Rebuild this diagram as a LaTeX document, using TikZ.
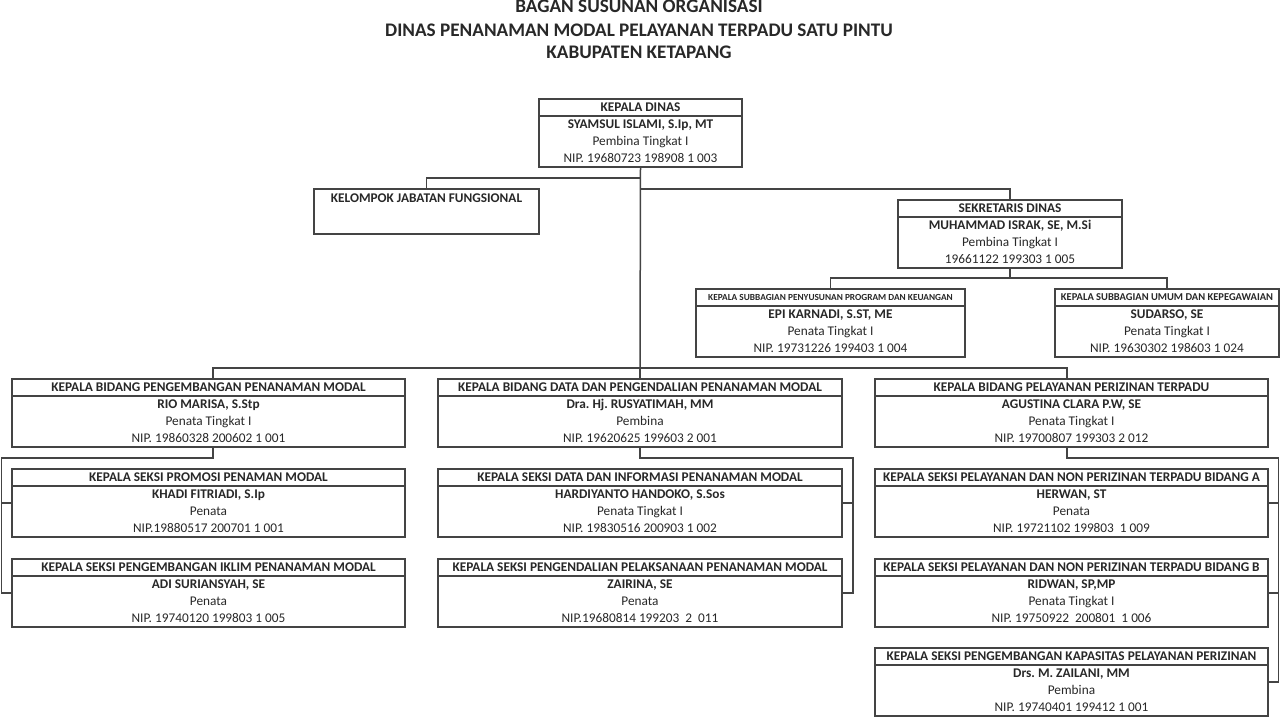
\documentclass[tikz,border=0pt]{standalone}
\usepackage{fontspec}
\setmainfont{Carlito}
\frenchspacing
\definecolor{linec}{RGB}{68,68,68}
\definecolor{textc}{RGB}{40,40,40}
\newcommand\hdb{\fontsize{13.3}{16}\selectfont\bfseries}
\newcommand\bdy{\fontsize{13.3}{16}\selectfont}
\newcommand\hsmall{\fontsize{9.3}{11}\selectfont\bfseries}
\newcommand\hsmallb{\fontsize{10.5}{12}\selectfont\bfseries}
\newcommand\ttl{\fontsize{19.2}{22}\selectfont\bfseries}
\tikzset{
  orgbox/.style={draw=linec, line width=1.5pt, rectangle, inner sep=0pt, outer sep=0pt, minimum height=68pt, anchor=north west},
  txt/.style={inner sep=0pt, text=textc, font=\bdy, text height=9.57pt, text depth=1pt},
  ttxt/.style={inner sep=0pt, text=textc, font=\ttl, text height=13.4pt, text depth=1pt},
  conn/.style={draw=linec, line width=1.5pt},
}
\newcommand\obox[9][font=\hdb]{%
  \node[orgbox, minimum width=#5pt] (#2) at (#3,#4) {};
  \draw[conn] ([yshift=-17pt]#2.north west) -- ([yshift=-17pt]#2.north east);
  \node[txt, #1] (#2-h) at ([yshift=-8.5pt]#2.north) {#6};
  \node[txt, font=\hdb] (#2-n) at ([yshift=-25.5pt]#2.north) {#7};
  \node[txt] (#2-r) at ([yshift=-42.5pt]#2.north) {#8};
  \node[txt] (#2-p) at ([yshift=-59.5pt]#2.north) {#9};
}
\begin{document}
\begin{tikzpicture}[x=1pt, y=-1pt]
\useasboundingbox (0,0) rectangle (1280,717);
\fill[white] (0,0) rectangle (1280,717);

% title
\node[ttxt] (t1) at (639,6) {BAGAN SUSUNAN ORGANISASI};
\node[ttxt] (t2) at (639,30) {DINAS PENANAMAN MODAL PELAYANAN TERPADU SATU PINTU};
\node[ttxt] (t3) at (639,52) {KABUPATEN KETAPANG};

% boxes
\obox{kd}{539}{99}{203}{KEPALA DINAS}{SYAMSUL ISLAMI, S.Ip, MT}{Pembina Tingkat I}{NIP. 19680723 198908 1 003}

\node[orgbox, minimum width=225pt, minimum height=45pt] (kjf) at (314,189) {};
\node[txt, font=\hdb] (kjf-h) at ([yshift=-9pt]kjf.north) {KELOMPOK JABATAN FUNGSIONAL};

\obox{sek}{898}{200}{224}{SEKRETARIS DINAS}{MUHAMMAD ISRAK, SE, M.Si}{Pembina Tingkat I}{19661122 199303 1 005}
\obox[font=\hsmall,text height=7pt]{sb1}{696}{289}{269}{KEPALA SUBBAGIAN PENYUSUNAN PROGRAM DAN KEUANGAN}{EPI KARNADI, S.ST, ME}{Penata Tingkat I}{NIP. 19731226 199403 1 004}
\obox[font=\hsmallb,text height=7.8pt]{sb2}{1055}{289}{224}{KEPALA SUBBAGIAN UMUM DAN KEPEGAWAIAN}{SUDARSO, SE}{Penata Tingkat I}{NIP. 19630302 198603 1 024}

\obox{bpm}{12}{379}{393}{KEPALA BIDANG PENGEMBANGAN PENANAMAN MODAL}{RIO MARISA, S.Stp}{Penata Tingkat I}{NIP. 19860328 200602 1 001}
\obox{bdp}{438}{379}{404}{KEPALA BIDANG DATA DAN PENGENDALIAN PENANAMAN MODAL}{Dra. Hj. RUSYATIMAH, MM}{Pembina}{NIP. 19620625 199603 2 001}
\obox{bpp}{875}{379}{393}{KEPALA BIDANG PELAYANAN PERIZINAN TERPADU}{AGUSTINA CLARA P.W, SE}{Penata Tingkat I}{NIP. 19700807 199303 2 012}

\obox{s11}{12}{469}{393}{KEPALA SEKSI PROMOSI PENAMAN MODAL}{KHADI FITRIADI, S.Ip}{Penata}{NIP.19880517 200701 1 001}
\obox{s12}{12}{559}{393}{KEPALA SEKSI PENGEMBANGAN IKLIM PENANAMAN MODAL}{ADI SURIANSYAH, SE}{Penata}{NIP. 19740120 199803 1 005}
\obox{s21}{438}{469}{404}{KEPALA SEKSI DATA DAN INFORMASI PENANAMAN MODAL}{HARDIYANTO HANDOKO, S.Sos}{Penata Tingkat I}{NIP. 19830516 200903 1 002}
\obox{s22}{438}{559}{404}{KEPALA SEKSI PENGENDALIAN PELAKSANAAN PENANAMAN MODAL}{ZAIRINA, SE}{Penata}{NIP.19680814 199203\ \ 2\ \ 011}
\obox{s31}{875}{469}{393}{KEPALA SEKSI PELAYANAN DAN NON PERIZINAN TERPADU BIDANG A}{HERWAN, ST}{Penata}{NIP. 19721102 199803\ \ 1 009}
\obox{s32}{875}{559}{393}{KEPALA SEKSI PELAYANAN DAN NON PERIZINAN TERPADU BIDANG B}{RIDWAN, SP,MP}{Penata Tingkat I}{NIP. 19750922\ \ 200801\ \ 1 006}
\obox{s33}{875}{648}{393}{KEPALA SEKSI PENGEMBANGAN KAPASITAS PELAYANAN PERIZINAN}{Drs. M. ZAILANI, MM}{Pembina}{NIP. 19740401 199412 1 001}

% connectors
\coordinate (c1) at (640,178);
\coordinate (c2) at (640,189);
\coordinate (sb) at (1010,278);
\coordinate (bus) at (640,368);
\coordinate (lL) at (1.5,458);
\coordinate (lM) at (853,458);
\coordinate (lR) at (1278.5,458);

\draw[conn] (kd.south) -- (bus);
\draw[conn] (kjf.north) |- (c1);
\draw[conn] (c2) -| (sek.north);
\draw[conn] (sek.south) -- (sb);
\draw[conn] (sb1.north) |- (sb) -| (sb2.north);
\draw[conn] ([xshift=4.5pt]bpm.north) |- (bus) -| ([xshift=-4.5pt]bpp.north);
\draw[conn] (bdp.north) -- (bus);

\draw[conn] ([xshift=4.5pt]bpm.south) |- (lL) |- (s11.west);
\draw[conn] (lL) |- (s12.west);
\draw[conn] (bdp.south) |- (lM) |- (s21.east);
\draw[conn] (lM) |- (s22.east);
\draw[conn] ([xshift=-4.5pt]bpp.south) |- (lR) |- (s31.east);
\draw[conn] (lR) |- (s32.east);
\draw[conn] (lR) |- (s33.east);
\end{tikzpicture}
\end{document}
